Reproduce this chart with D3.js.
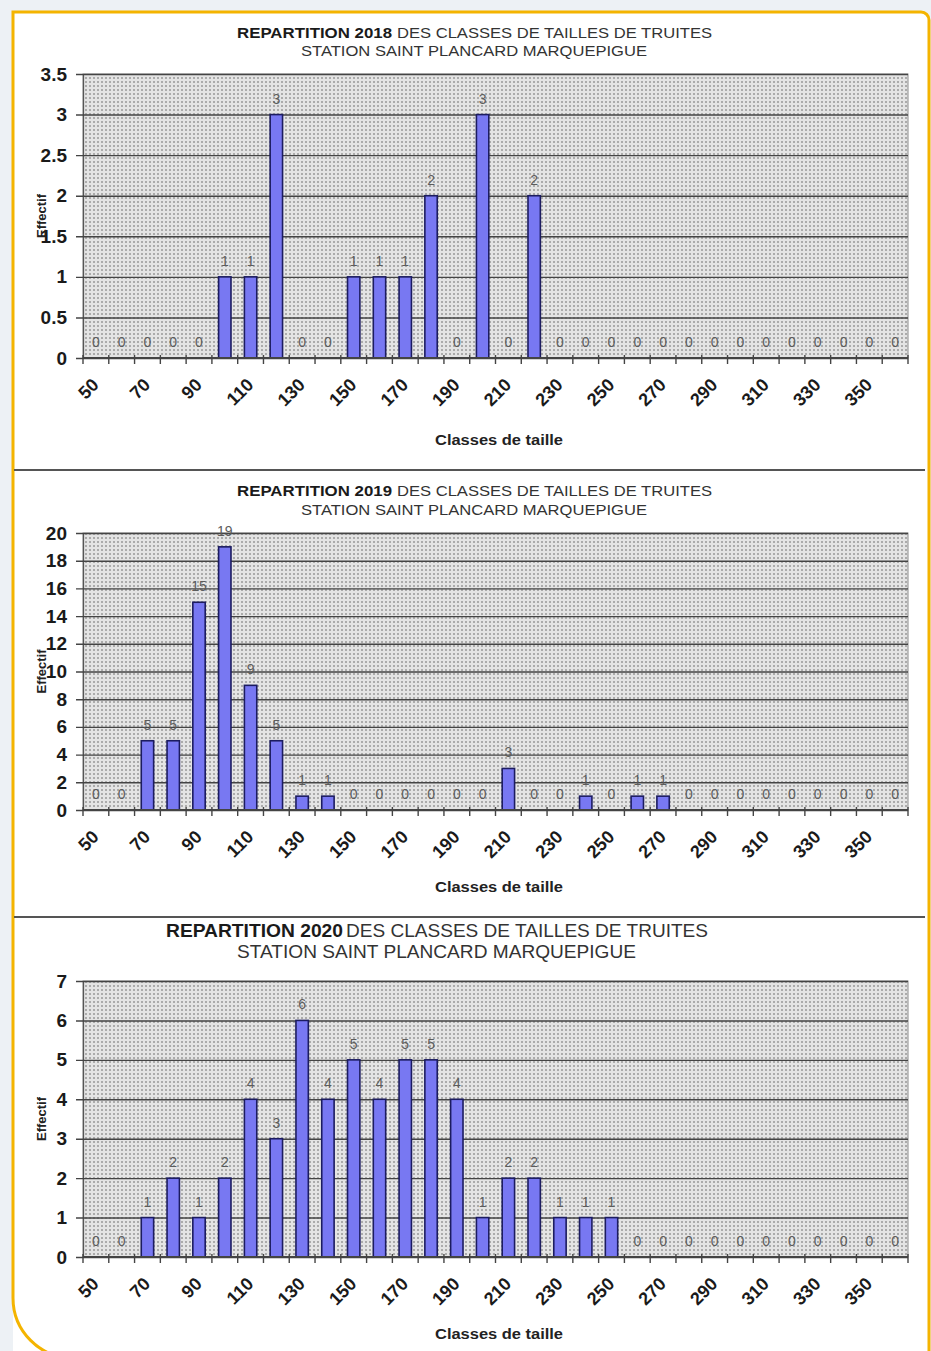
<!DOCTYPE html>
<html>
<head>
<meta charset="utf-8">
<script src="https://cdn.jsdelivr.net/npm/d3@7"></script>
<style>
  html, body { margin: 0; padding: 0; background: #edf1f5; }
  svg { display: block; font-family: "Liberation Sans", Arial, sans-serif; }
</style>
</head>
<body>
<svg id="chart" width="931" height="1351"></svg>
<script>
// size classes (mm) and the labelled ones
const classes = [50, 60, 70, 80, 90, 100, 110, 120, 130, 140, 150, 160, 170, 180, 190, 200,
  210, 220, 230, 240, 250, 260, 270, 280, 290, 300, 310, 320, 330, 340, 350, 360];
const tickClasses = [50, 70, 90, 110, 130, 150, 170, 190, 210, 230, 250, 270, 290, 310, 330, 350];

// effectif per class, one list per year
const eff2018 = [0, 0, 0, 0, 0, 1, 1, 3, 0, 0, 1, 1, 1, 2, 0, 3,
  0, 2, 0, 0, 0, 0, 0, 0, 0, 0, 0, 0, 0, 0, 0, 0];
const eff2019 = [0, 0, 5, 5, 15, 19, 9, 5, 1, 1, 0, 0, 0, 0, 0, 0,
  3, 0, 0, 1, 0, 1, 1, 0, 0, 0, 0, 0, 0, 0, 0, 0];
const eff2020 = [0, 0, 1, 2, 1, 2, 4, 3, 6, 4, 5, 4, 5, 5, 4, 1,
  2, 2, 1, 1, 1, 0, 0, 0, 0, 0, 0, 0, 0, 0, 0, 0];

const yTicks2018 = [0, 0.5, 1, 1.5, 2, 2.5, 3, 3.5];
const yTicks2019 = [0, 2, 4, 6, 8, 10, 12, 14, 16, 18, 20];
const yTicks2020 = [0, 1, 2, 3, 4, 5, 6, 7];

const years = ["2018", "2019", "2020"];
const subtitle = "STATION  SAINT PLANCARD MARQUEPIGUE";

// layout of each panel (pixel positions)
const panels = [
  { year: years[0], values: eff2018, ticks: yTicks2018, top: 74, bottom: 358,
    t1y: 38, t2y: 56, boldX: [237, 392], restX: [397, 712], subX: [301, 647],
    titleSize: 14, axisTitleY: 445 },
  { year: years[1], values: eff2019, ticks: yTicks2019, top: 533, bottom: 810,
    t1y: 496, t2y: 515, boldX: [237, 392], restX: [397, 712], subX: [301, 647],
    titleSize: 14, axisTitleY: 892 },
  { year: years[2], values: eff2020, ticks: yTicks2020, top: 981, bottom: 1257,
    t1y: 937, t2y: 958, boldX: [166, 343], restX: [346, 708], subX: [237, 636],
    titleSize: 18, axisTitleY: 1339 },
];

const left = 83;
const right = 908;

const svg = d3.select("#chart");

// page background and the framed card
svg.append("rect").attr("width", 931).attr("height", 1351).attr("fill", "#edf1f5");
svg.append("path")
  .attr("d", "M13,12 L921,12 A8,8 0 0 1 929,20 L929,1400 L13,1400 Z")
  .attr("fill", "#ffffff");
svg.append("path")
  .attr("d", "M929,1400 L929,20 A8,8 0 0 0 921,12 L13,12 L13,1298 A60,60 0 0 0 73,1358 L929,1358")
  .attr("fill", "none")
  .attr("stroke", "#f4b400")
  .attr("stroke-width", 3);

// separators between the three charts
[470, 917].forEach((y) => {
  svg.append("line")
    .attr("x1", 14).attr("x2", 925).attr("y1", y).attr("y2", y)
    .attr("stroke", "#555").attr("stroke-width", 2);
});

// dotted plot background
const defs = svg.append("defs");
const pat = defs.append("pattern")
  .attr("id", "dots")
  .attr("width", 4).attr("height", 4)
  .attr("patternUnits", "userSpaceOnUse");
pat.append("rect").attr("width", 4).attr("height", 4).attr("fill", "#e4e4e4");
pat.append("rect").attr("x", 1).attr("y", 1).attr("width", 2).attr("height", 2).attr("fill", "#ababab");

const x = d3.scaleBand()
  .domain(classes)
  .range([left, right])
  .paddingInner(0.52)
  .paddingOuter(0.26);

panels.forEach((p) => {
  const g = svg.append("g");
  const y = d3.scaleLinear()
    .domain([0, d3.max(p.ticks)])
    .range([p.bottom, p.top]);

  // title, bold year part + regular rest
  g.append("text")
    .attr("x", p.boldX[0]).attr("y", p.t1y)
    .attr("font-size", p.titleSize).attr("font-weight", "bold").attr("fill", "#1a1a1a")
    .attr("textLength", p.boldX[1] - p.boldX[0]).attr("lengthAdjust", "spacingAndGlyphs")
    .text("REPARTITION " + p.year);
  g.append("text")
    .attr("x", p.restX[0]).attr("y", p.t1y)
    .attr("font-size", p.titleSize).attr("fill", "#333")
    .attr("textLength", p.restX[1] - p.restX[0]).attr("lengthAdjust", "spacingAndGlyphs")
    .text("DES CLASSES DE TAILLES DE TRUITES");
  g.append("text")
    .attr("x", p.subX[0]).attr("y", p.t2y)
    .attr("font-size", p.titleSize).attr("fill", "#333")
    .attr("textLength", p.subX[1] - p.subX[0]).attr("lengthAdjust", "spacingAndGlyphs")
    .text(subtitle);

  // plot area
  g.append("rect")
    .attr("x", left).attr("y", p.top)
    .attr("width", right - left).attr("height", p.bottom - p.top)
    .attr("fill", "url(#dots)")
    .attr("stroke", "#8a8a8a").attr("stroke-width", 1);

  // gridlines + y ticks
  const yAxis = d3.axisLeft(y)
    .tickValues(p.ticks)
    .tickFormat((d) => String(d))
    .tickSize(-(right - left))
    .tickSizeOuter(0)
    .tickPadding(16);
  const ya = g.append("g")
    .attr("transform", `translate(${left},0)`)
    .call(yAxis);
  ya.select(".domain").attr("stroke", "#555").attr("stroke-width", 1.2);
  ya.selectAll(".tick line")
    .attr("x1", -7)
    .attr("stroke", "#444").attr("stroke-width", 1.4);
  ya.selectAll(".tick text")
    .attr("font-size", 19).attr("font-weight", "bold")
    .attr("font-family", "Liberation Sans, Arial, sans-serif")
    .attr("fill", "#1a1a1a");

  // bars
  g.selectAll("rect.bar")
    .data(classes.map((c, i) => ({ c, v: p.values[i] })))
    .join("rect")
    .attr("class", "bar")
    .attr("x", (d) => x(d.c))
    .attr("y", (d) => y(d.v))
    .attr("width", x.bandwidth())
    .attr("height", (d) => p.bottom - y(d.v))
    .attr("fill", "#7878f2")
    .attr("stroke", "#1c1c60")
    .attr("stroke-width", 1.6);

  // value labels
  g.selectAll("text.val")
    .data(classes.map((c, i) => ({ c, v: p.values[i] })))
    .join("text")
    .attr("class", "val")
    .attr("x", (d) => x(d.c) + x.bandwidth() / 2)
    .attr("y", (d) => y(d.v) - 11)
    .attr("text-anchor", "middle")
    .attr("font-size", 14)
    .attr("fill", "#5c5c5c")
    .text((d) => d.v);

  // x axis line with cross ticks at class boundaries
  g.append("line")
    .attr("x1", left).attr("x2", right)
    .attr("y1", p.bottom).attr("y2", p.bottom)
    .attr("stroke", "#444").attr("stroke-width", 2);
  const step = x.step();
  g.selectAll("line.xt")
    .data(d3.range(classes.length + 1))
    .join("line")
    .attr("class", "xt")
    .attr("x1", (i) => left + i * step)
    .attr("x2", (i) => left + i * step)
    .attr("y1", p.bottom - 3)
    .attr("y2", p.bottom + 6)
    .attr("stroke", "#444").attr("stroke-width", 1.4);

  // rotated class labels
  g.selectAll("text.xl")
    .data(tickClasses)
    .join("text")
    .attr("class", "xl")
    .attr("transform", (d) => `translate(${x(d) + x.bandwidth() / 2 + 4},${p.bottom + 28}) rotate(-45)`)
    .attr("text-anchor", "end")
    .attr("font-size", 18)
    .attr("font-weight", "bold")
    .attr("fill", "#1a1a1a")
    .text((d) => d);

  // axis titles
  g.append("text")
    .attr("x", 499).attr("y", p.axisTitleY)
    .attr("text-anchor", "middle")
    .attr("font-size", 14).attr("font-weight", "bold").attr("fill", "#222")
    .attr("textLength", 128).attr("lengthAdjust", "spacingAndGlyphs")
    .text("Classes de taille");
  g.append("text")
    .attr("transform", `translate(46,${(p.top + p.bottom) / 2}) rotate(-90)`)
    .attr("text-anchor", "middle")
    .attr("font-size", 13).attr("font-weight", "bold").attr("fill", "#222")
    .text("Effectif");
});
</script>
</body>
</html>
